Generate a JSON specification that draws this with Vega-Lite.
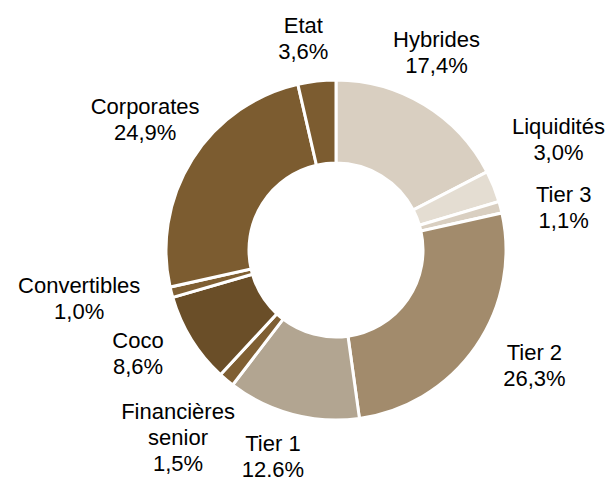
{
  "$schema": "https://vega.github.io/schema/vega-lite/v6.json",
  "width": 550,
  "height": 458,
  "autosize": "none",
  "padding": {"left": 61, "top": 21, "right": 0, "bottom": 0},
  "background": "white",
  "config": {
    "view": {"stroke": null},
    "text": {"font": "Liberation Sans", "fontSize": 22, "lineBreak": "\n", "lineHeight": 26, "align": "center", "baseline": "middle", "color": "black", "radius": 228}
  },
  "data": {
    "values": [
      {"i": 1, "cat": "Hybrides", "v": 17.4, "lab": "Hybrides\n17,4%"},
      {"i": 2, "cat": "Liquidités", "v": 3.0, "lab": "Liquidités\n3,0%"},
      {"i": 3, "cat": "Tier 3", "v": 1.1, "lab": "Tier 3\n1,1%"},
      {"i": 4, "cat": "Tier 2", "v": 26.3, "lab": "Tier 2\n26,3%"},
      {"i": 5, "cat": "Tier 1", "v": 12.6, "lab": "Tier 1\n12.6%"},
      {"i": 6, "cat": "Financières senior", "v": 1.5, "lab": "Financières\nsenior\n1,5%"},
      {"i": 7, "cat": "Coco", "v": 8.6, "lab": "Coco\n8,6%"},
      {"i": 8, "cat": "Convertibles", "v": 1.0, "lab": "Convertibles\n1,0%"},
      {"i": 9, "cat": "Corporates", "v": 24.9, "lab": "Corporates\n24,9%"},
      {"i": 10, "cat": "Etat", "v": 3.6, "lab": "Etat\n3,6%"}
    ]
  },
  "encoding": {
    "theta": {"field": "v", "type": "quantitative", "stack": true},
    "order": {"field": "i", "type": "quantitative"}
  },
  "layer": [
    {
      "mark": {"type": "arc", "outerRadius": 170, "innerRadius": 87, "stroke": "white", "strokeWidth": 3},
      "encoding": {
        "color": {
          "field": "cat",
          "type": "nominal",
          "legend": null,
          "scale": {
            "domain": ["Hybrides", "Liquidités", "Tier 3", "Tier 2", "Tier 1", "Financières senior", "Coco", "Convertibles", "Corporates", "Etat"],
            "range": ["#D9CFC1", "#E4DDD2", "#D9CFC1", "#A28B6C", "#B2A591", "#7F5F33", "#6A4E28", "#7F5F33", "#7C5C30", "#7C5C30"]
          }
        }
      }
    },
    {"mark": {"type": "text", "dx": -18, "dy": -15}, "encoding": {"text": {"condition": {"test": "datum.cat === 'Hybrides'", "field": "lab"}, "value": ""}}},
    {"mark": {"type": "text", "dx": 11, "dy": -38}, "encoding": {"text": {"condition": {"test": "datum.cat === 'Liquidités'", "field": "lab"}, "value": ""}}},
    {"mark": {"type": "text", "dx": 7, "dy": 2}, "encoding": {"text": {"condition": {"test": "datum.cat === 'Tier 3'", "field": "lab"}, "value": ""}}},
    {"mark": {"type": "text", "dx": 11, "dy": -27}, "encoding": {"text": {"condition": {"test": "datum.cat === 'Tier 2'", "field": "lab"}, "value": ""}}},
    {"mark": {"type": "text", "dx": -5, "dy": -26}, "encoding": {"text": {"condition": {"test": "datum.cat === 'Tier 1'", "field": "lab"}, "value": ""}}},
    {"mark": {"type": "text", "dx": -11, "dy": -12}, "encoding": {"text": {"condition": {"test": "datum.cat === 'Financières senior'", "field": "lab"}, "value": ""}}},
    {"mark": {"type": "text", "dx": -4, "dy": -29}, "encoding": {"text": {"condition": {"test": "datum.cat === 'Coco'", "field": "lab"}, "value": ""}}},
    {"mark": {"type": "text", "dx": -36, "dy": -21}, "encoding": {"text": {"condition": {"test": "datum.cat === 'Convertibles'", "field": "lab"}, "value": ""}}},
    {"mark": {"type": "text", "dx": 2, "dy": -21}, "encoding": {"text": {"condition": {"test": "datum.cat === 'Corporates'", "field": "lab"}, "value": ""}}},
    {"mark": {"type": "text", "dx": -7, "dy": 3}, "encoding": {"text": {"condition": {"test": "datum.cat === 'Etat'", "field": "lab"}, "value": ""}}}
  ]
}
